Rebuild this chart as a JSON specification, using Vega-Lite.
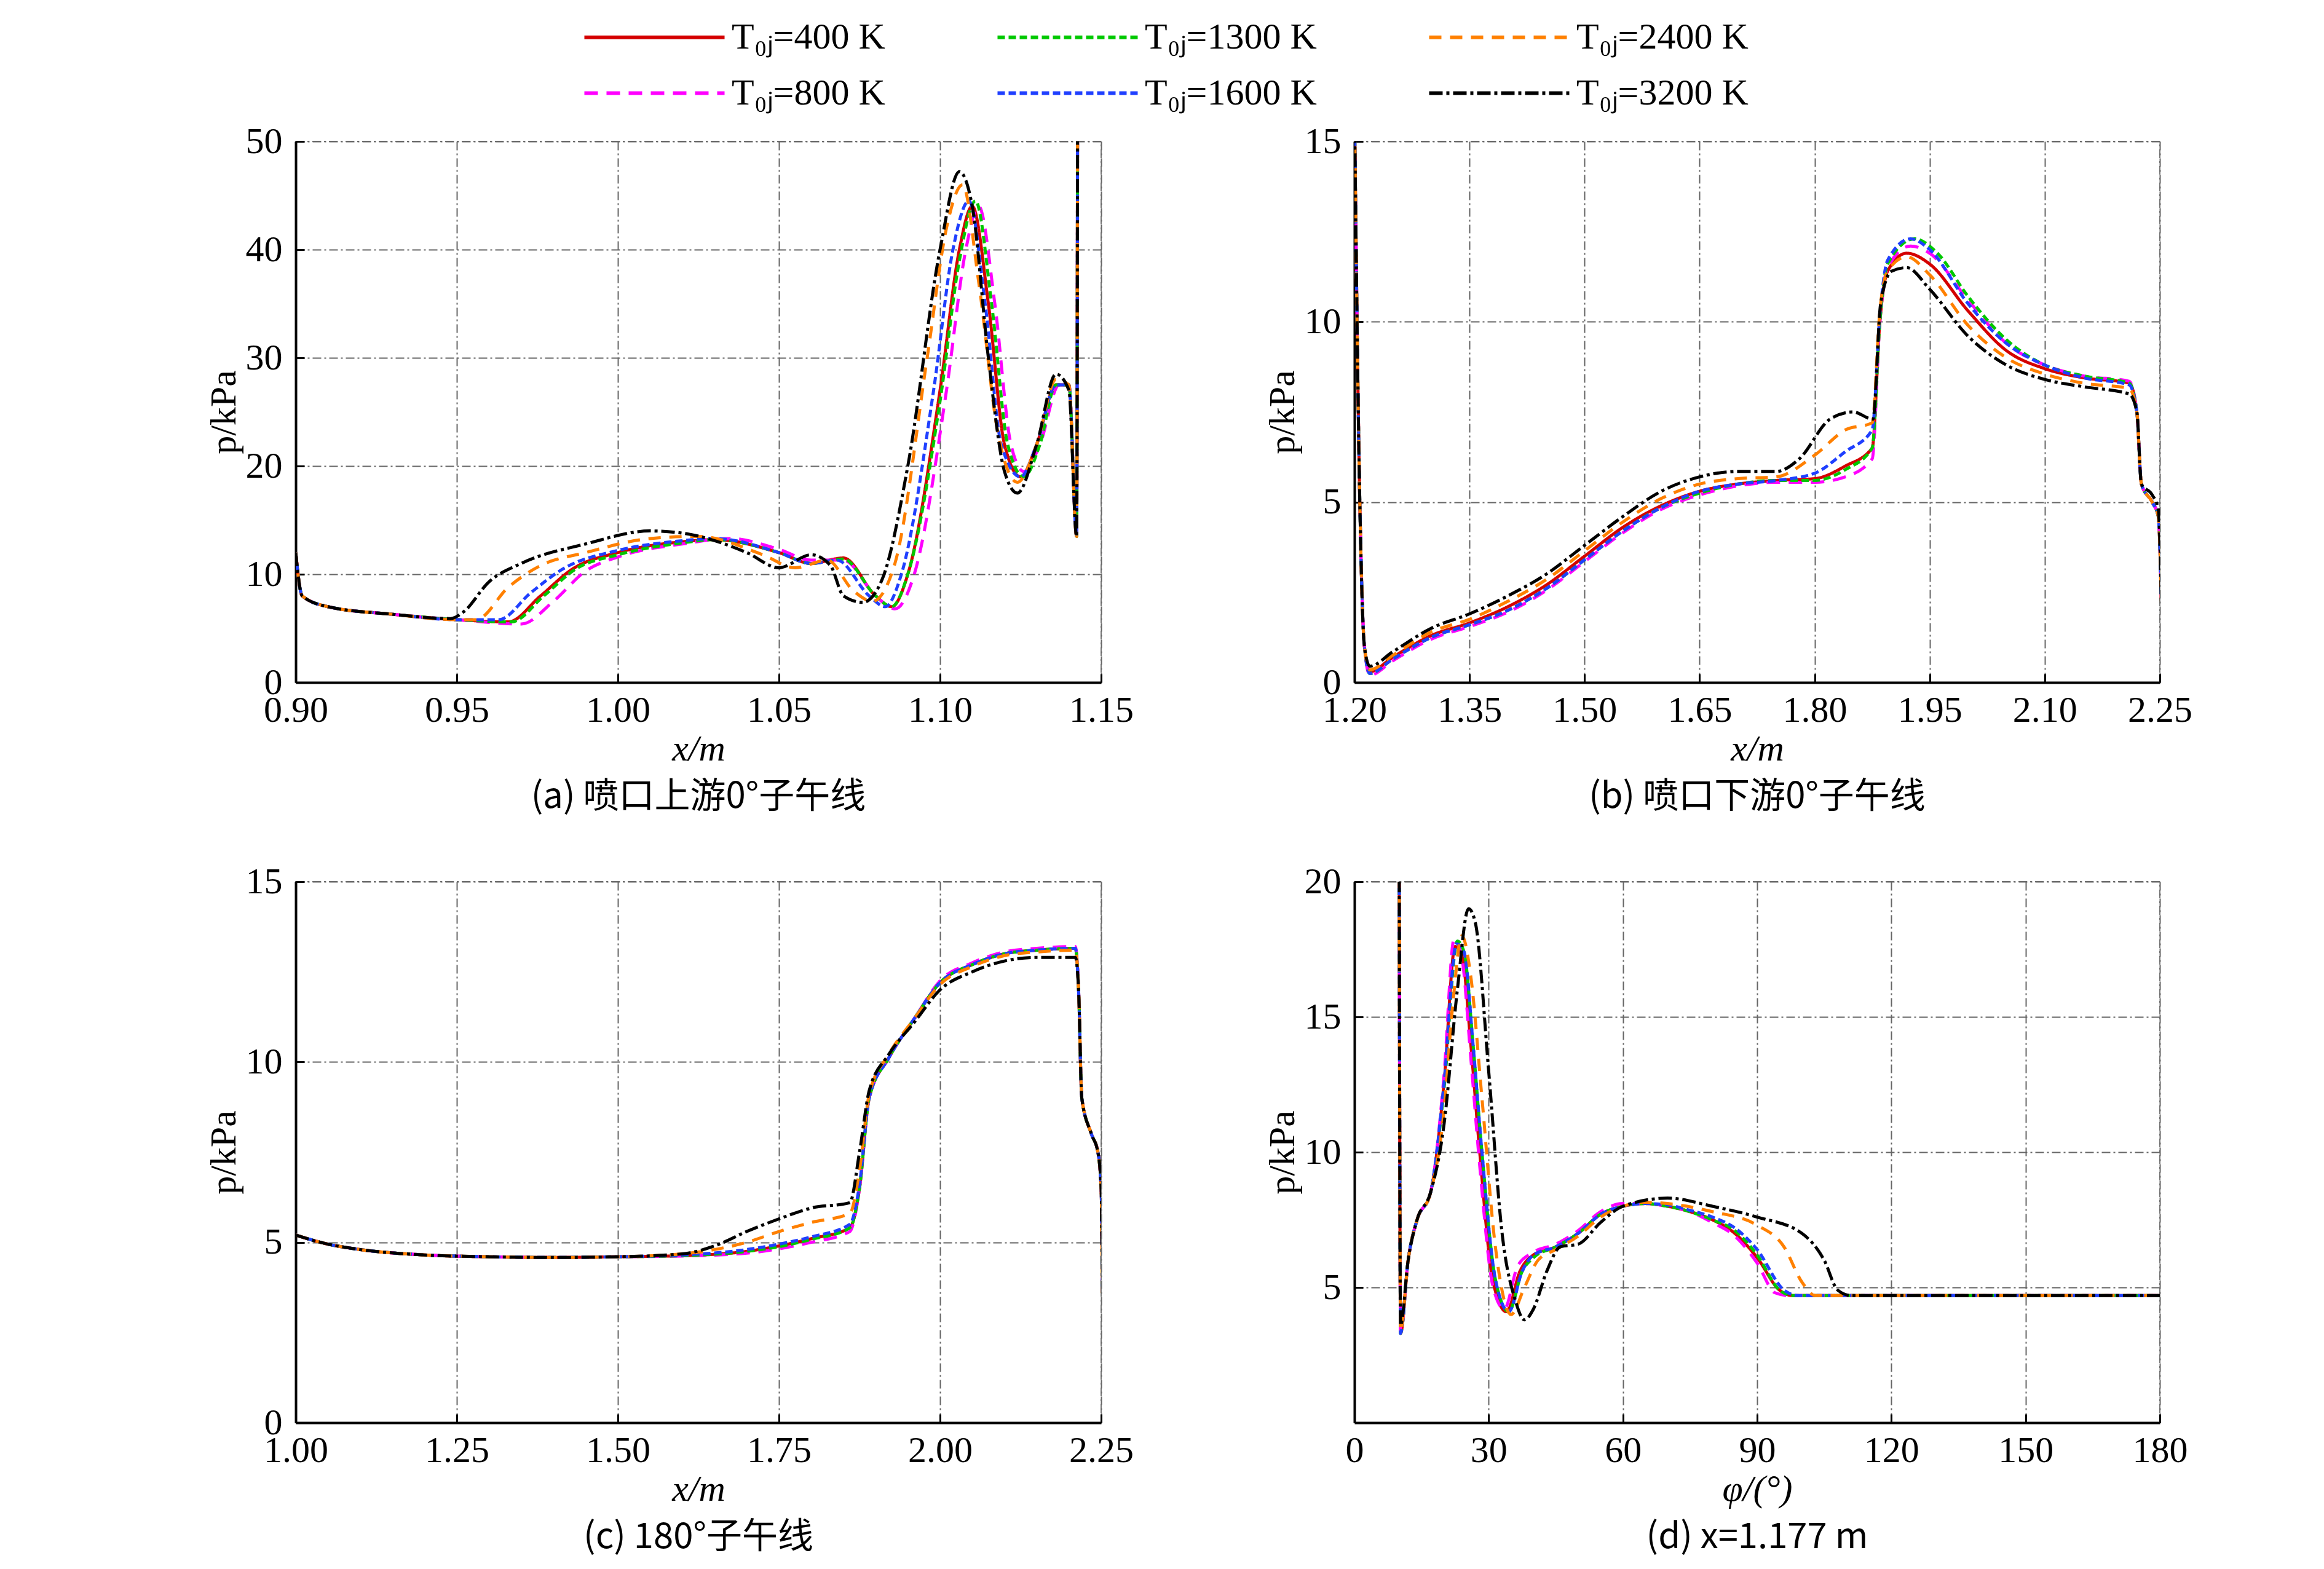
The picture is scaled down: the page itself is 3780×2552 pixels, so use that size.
{
"$schema":"https://vega.github.io/schema/vega-lite/v6.json",
"background":"white",
"padding":{"left":333,"top":0,"right":20,"bottom":10},
"config":{"font":"Liberation Serif","view":{"stroke":"#777","strokeDash":[14,5,3,5],"strokeWidth":2},
"axis":{"labelFont":"Liberation Serif","titleFont":"Liberation Serif","labelFontSize":60,"titleFontSize":60,"labelColor":"black","titleColor":"black","titleFontWeight":"normal","domainColor":"black","domainWidth":4,"tickColor":"black","tickWidth":3,"tickSize":-14,"gridColor":"#666","gridDash":[14,5,3,5],"gridWidth":2,"labelPadding":30,"labelFlush":false},
"axisX":{"titleFontStyle":"italic"},
"axisY":{"labelPadding":36},
"title":{"font":"Noto Sans CJK SC","fontSize":58,"fontWeight":"normal","orient":"bottom","offset":20},
"legend":{"labelFont":"Liberation Serif","labelFontSize":60,"labelColor":"black","labelLimit":0}},
"data":{"values":[
{"p":"a","s":"400","x":0.9,"y":12},{"p":"a","s":"400","x":0.902,"y":8},{"p":"a","s":"400","x":0.91,"y":7},{"p":"a","s":"400","x":0.93,"y":6.3},{"p":"a","s":"400","x":0.95,"y":5.8},{"p":"a","s":"400","x":0.966,"y":5.6},{"p":"a","s":"400","x":0.976,"y":8},{"p":"a","s":"400","x":0.986,"y":10.5},{"p":"a","s":"400","x":1.0,"y":12},{"p":"a","s":"400","x":1.02,"y":13},{"p":"a","s":"400","x":1.03,"y":13.2},{"p":"a","s":"400","x":1.05,"y":12},{"p":"a","s":"400","x":1.06,"y":11},{"p":"a","s":"400","x":1.07,"y":11.5},{"p":"a","s":"400","x":1.08,"y":8},{"p":"a","s":"400","x":1.085,"y":7},{"p":"a","s":"400","x":1.09,"y":10},{"p":"a","s":"400","x":1.1,"y":27},{"p":"a","s":"400","x":1.106,"y":40},{"p":"a","s":"400","x":1.11,"y":44},{"p":"a","s":"400","x":1.115,"y":35},{"p":"a","s":"400","x":1.12,"y":22},{"p":"a","s":"400","x":1.125,"y":19},{"p":"a","s":"400","x":1.13,"y":22},{"p":"a","s":"400","x":1.136,"y":27.5},{"p":"a","s":"400","x":1.14,"y":27.5},{"p":"a","s":"400","x":1.1424,"y":13.5},{"p":"a","s":"400","x":1.1427,"y":55},
{"p":"a","s":"800","x":0.9,"y":12},{"p":"a","s":"800","x":0.902,"y":8},{"p":"a","s":"800","x":0.91,"y":7},{"p":"a","s":"800","x":0.93,"y":6.3},{"p":"a","s":"800","x":0.95,"y":5.8},{"p":"a","s":"800","x":0.97,"y":5.4},{"p":"a","s":"800","x":0.98,"y":7.5},{"p":"a","s":"800","x":0.99,"y":10.3},{"p":"a","s":"800","x":1.0,"y":11.6},{"p":"a","s":"800","x":1.02,"y":12.8},{"p":"a","s":"800","x":1.035,"y":13.3},{"p":"a","s":"800","x":1.05,"y":12.3},{"p":"a","s":"800","x":1.06,"y":11.3},{"p":"a","s":"800","x":1.07,"y":11.3},{"p":"a","s":"800","x":1.08,"y":8},{"p":"a","s":"800","x":1.086,"y":6.8},{"p":"a","s":"800","x":1.092,"y":10},{"p":"a","s":"800","x":1.102,"y":27},{"p":"a","s":"800","x":1.108,"y":40},{"p":"a","s":"800","x":1.112,"y":44},{"p":"a","s":"800","x":1.117,"y":35},{"p":"a","s":"800","x":1.122,"y":22},{"p":"a","s":"800","x":1.126,"y":19.5},{"p":"a","s":"800","x":1.131,"y":22},{"p":"a","s":"800","x":1.137,"y":27.5},{"p":"a","s":"800","x":1.14,"y":27.5},{"p":"a","s":"800","x":1.1424,"y":13.5},{"p":"a","s":"800","x":1.1427,"y":55},
{"p":"a","s":"1300","x":0.9,"y":12},{"p":"a","s":"1300","x":0.902,"y":8},{"p":"a","s":"1300","x":0.91,"y":7},{"p":"a","s":"1300","x":0.93,"y":6.3},{"p":"a","s":"1300","x":0.95,"y":5.8},{"p":"a","s":"1300","x":0.967,"y":5.6},{"p":"a","s":"1300","x":0.977,"y":8},{"p":"a","s":"1300","x":0.987,"y":10.5},{"p":"a","s":"1300","x":1.0,"y":11.8},{"p":"a","s":"1300","x":1.02,"y":12.9},{"p":"a","s":"1300","x":1.03,"y":13.2},{"p":"a","s":"1300","x":1.05,"y":12},{"p":"a","s":"1300","x":1.06,"y":11},{"p":"a","s":"1300","x":1.07,"y":11.4},{"p":"a","s":"1300","x":1.08,"y":8},{"p":"a","s":"1300","x":1.085,"y":7},{"p":"a","s":"1300","x":1.09,"y":10},{"p":"a","s":"1300","x":1.1,"y":26},{"p":"a","s":"1300","x":1.106,"y":39},{"p":"a","s":"1300","x":1.111,"y":44.5},{"p":"a","s":"1300","x":1.116,"y":35},{"p":"a","s":"1300","x":1.121,"y":22},{"p":"a","s":"1300","x":1.126,"y":19},{"p":"a","s":"1300","x":1.131,"y":22},{"p":"a","s":"1300","x":1.136,"y":27.5},{"p":"a","s":"1300","x":1.14,"y":27.5},{"p":"a","s":"1300","x":1.1424,"y":13.5},{"p":"a","s":"1300","x":1.1427,"y":55},
{"p":"a","s":"1600","x":0.9,"y":12},{"p":"a","s":"1600","x":0.902,"y":8},{"p":"a","s":"1600","x":0.91,"y":7},{"p":"a","s":"1600","x":0.93,"y":6.3},{"p":"a","s":"1600","x":0.95,"y":5.8},{"p":"a","s":"1600","x":0.963,"y":5.8},{"p":"a","s":"1600","x":0.973,"y":8.3},{"p":"a","s":"1600","x":0.983,"y":10.5},{"p":"a","s":"1600","x":1.0,"y":12.2},{"p":"a","s":"1600","x":1.02,"y":13.1},{"p":"a","s":"1600","x":1.03,"y":13.3},{"p":"a","s":"1600","x":1.05,"y":12},{"p":"a","s":"1600","x":1.06,"y":11},{"p":"a","s":"1600","x":1.068,"y":11.3},{"p":"a","s":"1600","x":1.078,"y":8},{"p":"a","s":"1600","x":1.083,"y":7},{"p":"a","s":"1600","x":1.088,"y":10},{"p":"a","s":"1600","x":1.098,"y":27},{"p":"a","s":"1600","x":1.104,"y":40},{"p":"a","s":"1600","x":1.109,"y":44.5},{"p":"a","s":"1600","x":1.114,"y":35},{"p":"a","s":"1600","x":1.119,"y":22},{"p":"a","s":"1600","x":1.125,"y":19},{"p":"a","s":"1600","x":1.13,"y":22},{"p":"a","s":"1600","x":1.136,"y":27.5},{"p":"a","s":"1600","x":1.14,"y":27.5},{"p":"a","s":"1600","x":1.1424,"y":13.5},{"p":"a","s":"1600","x":1.1427,"y":55},
{"p":"a","s":"2400","x":0.9,"y":12},{"p":"a","s":"2400","x":0.902,"y":8},{"p":"a","s":"2400","x":0.91,"y":7},{"p":"a","s":"2400","x":0.93,"y":6.3},{"p":"a","s":"2400","x":0.95,"y":5.8},{"p":"a","s":"2400","x":0.956,"y":5.8},{"p":"a","s":"2400","x":0.966,"y":8.8},{"p":"a","s":"2400","x":0.976,"y":10.8},{"p":"a","s":"2400","x":0.99,"y":12},{"p":"a","s":"2400","x":1.01,"y":13.3},{"p":"a","s":"2400","x":1.025,"y":13.5},{"p":"a","s":"2400","x":1.045,"y":11.8},{"p":"a","s":"2400","x":1.055,"y":10.6},{"p":"a","s":"2400","x":1.065,"y":11.3},{"p":"a","s":"2400","x":1.073,"y":8.5},{"p":"a","s":"2400","x":1.079,"y":7.5},{"p":"a","s":"2400","x":1.086,"y":11},{"p":"a","s":"2400","x":1.096,"y":30},{"p":"a","s":"2400","x":1.102,"y":42},{"p":"a","s":"2400","x":1.107,"y":46},{"p":"a","s":"2400","x":1.112,"y":37},{"p":"a","s":"2400","x":1.118,"y":23},{"p":"a","s":"2400","x":1.124,"y":18.5},{"p":"a","s":"2400","x":1.13,"y":22},{"p":"a","s":"2400","x":1.136,"y":28},{"p":"a","s":"2400","x":1.14,"y":27.5},{"p":"a","s":"2400","x":1.1424,"y":13.5},{"p":"a","s":"2400","x":1.1427,"y":55},
{"p":"a","s":"3200","x":0.9,"y":12},{"p":"a","s":"3200","x":0.902,"y":8},{"p":"a","s":"3200","x":0.91,"y":7},{"p":"a","s":"3200","x":0.93,"y":6.3},{"p":"a","s":"3200","x":0.948,"y":5.9},{"p":"a","s":"3200","x":0.952,"y":6.5},{"p":"a","s":"3200","x":0.96,"y":9.3},{"p":"a","s":"3200","x":0.97,"y":11},{"p":"a","s":"3200","x":0.99,"y":12.8},{"p":"a","s":"3200","x":1.01,"y":14},{"p":"a","s":"3200","x":1.02,"y":13.8},{"p":"a","s":"3200","x":1.04,"y":12},{"p":"a","s":"3200","x":1.05,"y":10.6},{"p":"a","s":"3200","x":1.06,"y":11.8},{"p":"a","s":"3200","x":1.066,"y":10.8},{"p":"a","s":"3200","x":1.07,"y":8},{"p":"a","s":"3200","x":1.076,"y":7.4},{"p":"a","s":"3200","x":1.082,"y":9.5},{"p":"a","s":"3200","x":1.09,"y":20},{"p":"a","s":"3200","x":1.1,"y":40},{"p":"a","s":"3200","x":1.106,"y":47.2},{"p":"a","s":"3200","x":1.11,"y":44},{"p":"a","s":"3200","x":1.115,"y":30},{"p":"a","s":"3200","x":1.12,"y":19.5},{"p":"a","s":"3200","x":1.124,"y":17.5},{"p":"a","s":"3200","x":1.13,"y":22},{"p":"a","s":"3200","x":1.136,"y":28.5},{"p":"a","s":"3200","x":1.14,"y":27},{"p":"a","s":"3200","x":1.1424,"y":13.5},{"p":"a","s":"3200","x":1.1427,"y":55},

{"p":"b","s":"400","x":1.2,"y":16},{"p":"b","s":"400","x":1.207,"y":5},{"p":"b","s":"400","x":1.213,"y":1},{"p":"b","s":"400","x":1.22,"y":0.3},{"p":"b","s":"400","x":1.25,"y":0.7},{"p":"b","s":"400","x":1.3,"y":1.3},{"p":"b","s":"400","x":1.35,"y":1.65},{"p":"b","s":"400","x":1.4,"y":2.1},{"p":"b","s":"400","x":1.45,"y":2.7},{"p":"b","s":"400","x":1.5,"y":3.5},{"p":"b","s":"400","x":1.55,"y":4.3},{"p":"b","s":"400","x":1.6,"y":4.9},{"p":"b","s":"400","x":1.65,"y":5.3},{"p":"b","s":"400","x":1.7,"y":5.5},{"p":"b","s":"400","x":1.75,"y":5.6},{"p":"b","s":"400","x":1.8,"y":5.65},{"p":"b","s":"400","x":1.84,"y":6},{"p":"b","s":"400","x":1.875,"y":6.5},{"p":"b","s":"400","x":1.885,"y":10},{"p":"b","s":"400","x":1.895,"y":11.4},{"p":"b","s":"400","x":1.92,"y":11.9},{"p":"b","s":"400","x":1.95,"y":11.6},{"p":"b","s":"400","x":2.0,"y":10.3},{"p":"b","s":"400","x":2.05,"y":9.2},{"p":"b","s":"400","x":2.1,"y":8.7},{"p":"b","s":"400","x":2.15,"y":8.45},{"p":"b","s":"400","x":2.21,"y":8.3},{"p":"b","s":"400","x":2.22,"y":7.5},{"p":"b","s":"400","x":2.226,"y":5.5},{"p":"b","s":"400","x":2.24,"y":5.0},{"p":"b","s":"400","x":2.248,"y":4.6},{"p":"b","s":"400","x":2.252,"y":2.2},
{"p":"b","s":"800","x":1.2,"y":16},{"p":"b","s":"800","x":1.207,"y":5},{"p":"b","s":"800","x":1.213,"y":1},{"p":"b","s":"800","x":1.22,"y":0.2},{"p":"b","s":"800","x":1.25,"y":0.6},{"p":"b","s":"800","x":1.3,"y":1.2},{"p":"b","s":"800","x":1.35,"y":1.55},{"p":"b","s":"800","x":1.4,"y":1.95},{"p":"b","s":"800","x":1.45,"y":2.55},{"p":"b","s":"800","x":1.5,"y":3.35},{"p":"b","s":"800","x":1.55,"y":4.15},{"p":"b","s":"800","x":1.6,"y":4.8},{"p":"b","s":"800","x":1.65,"y":5.2},{"p":"b","s":"800","x":1.7,"y":5.45},{"p":"b","s":"800","x":1.75,"y":5.55},{"p":"b","s":"800","x":1.8,"y":5.55},{"p":"b","s":"800","x":1.84,"y":5.7},{"p":"b","s":"800","x":1.875,"y":6.2},{"p":"b","s":"800","x":1.885,"y":10},{"p":"b","s":"800","x":1.895,"y":11.5},{"p":"b","s":"800","x":1.925,"y":12.1},{"p":"b","s":"800","x":1.95,"y":11.9},{"p":"b","s":"800","x":2.0,"y":10.6},{"p":"b","s":"800","x":2.05,"y":9.4},{"p":"b","s":"800","x":2.1,"y":8.8},{"p":"b","s":"800","x":2.15,"y":8.5},{"p":"b","s":"800","x":2.21,"y":8.35},{"p":"b","s":"800","x":2.22,"y":7.5},{"p":"b","s":"800","x":2.226,"y":5.5},{"p":"b","s":"800","x":2.24,"y":5.0},{"p":"b","s":"800","x":2.248,"y":4.6},{"p":"b","s":"800","x":2.252,"y":2.2},
{"p":"b","s":"1300","x":1.2,"y":16},{"p":"b","s":"1300","x":1.207,"y":5},{"p":"b","s":"1300","x":1.213,"y":1},{"p":"b","s":"1300","x":1.22,"y":0.25},{"p":"b","s":"1300","x":1.25,"y":0.65},{"p":"b","s":"1300","x":1.3,"y":1.25},{"p":"b","s":"1300","x":1.35,"y":1.6},{"p":"b","s":"1300","x":1.4,"y":2.0},{"p":"b","s":"1300","x":1.45,"y":2.6},{"p":"b","s":"1300","x":1.5,"y":3.4},{"p":"b","s":"1300","x":1.55,"y":4.2},{"p":"b","s":"1300","x":1.6,"y":4.85},{"p":"b","s":"1300","x":1.65,"y":5.25},{"p":"b","s":"1300","x":1.7,"y":5.5},{"p":"b","s":"1300","x":1.75,"y":5.6},{"p":"b","s":"1300","x":1.8,"y":5.6},{"p":"b","s":"1300","x":1.84,"y":5.9},{"p":"b","s":"1300","x":1.875,"y":6.5},{"p":"b","s":"1300","x":1.885,"y":10},{"p":"b","s":"1300","x":1.895,"y":11.6},{"p":"b","s":"1300","x":1.93,"y":12.3},{"p":"b","s":"1300","x":1.96,"y":11.9},{"p":"b","s":"1300","x":2.0,"y":10.7},{"p":"b","s":"1300","x":2.05,"y":9.5},{"p":"b","s":"1300","x":2.1,"y":8.8},{"p":"b","s":"1300","x":2.15,"y":8.5},{"p":"b","s":"1300","x":2.21,"y":8.3},{"p":"b","s":"1300","x":2.22,"y":7.5},{"p":"b","s":"1300","x":2.226,"y":5.5},{"p":"b","s":"1300","x":2.24,"y":5.0},{"p":"b","s":"1300","x":2.248,"y":4.6},{"p":"b","s":"1300","x":2.252,"y":2.2},
{"p":"b","s":"1600","x":1.2,"y":16},{"p":"b","s":"1600","x":1.207,"y":5},{"p":"b","s":"1600","x":1.213,"y":1},{"p":"b","s":"1600","x":1.22,"y":0.25},{"p":"b","s":"1600","x":1.25,"y":0.65},{"p":"b","s":"1600","x":1.3,"y":1.25},{"p":"b","s":"1600","x":1.35,"y":1.6},{"p":"b","s":"1600","x":1.4,"y":2.0},{"p":"b","s":"1600","x":1.45,"y":2.6},{"p":"b","s":"1600","x":1.5,"y":3.4},{"p":"b","s":"1600","x":1.55,"y":4.2},{"p":"b","s":"1600","x":1.6,"y":4.85},{"p":"b","s":"1600","x":1.65,"y":5.3},{"p":"b","s":"1600","x":1.7,"y":5.5},{"p":"b","s":"1600","x":1.75,"y":5.6},{"p":"b","s":"1600","x":1.8,"y":5.8},{"p":"b","s":"1600","x":1.84,"y":6.4},{"p":"b","s":"1600","x":1.875,"y":7.0},{"p":"b","s":"1600","x":1.885,"y":10.2},{"p":"b","s":"1600","x":1.895,"y":11.7},{"p":"b","s":"1600","x":1.925,"y":12.3},{"p":"b","s":"1600","x":1.95,"y":12.0},{"p":"b","s":"1600","x":2.0,"y":10.5},{"p":"b","s":"1600","x":2.05,"y":9.4},{"p":"b","s":"1600","x":2.1,"y":8.8},{"p":"b","s":"1600","x":2.15,"y":8.45},{"p":"b","s":"1600","x":2.21,"y":8.25},{"p":"b","s":"1600","x":2.22,"y":7.5},{"p":"b","s":"1600","x":2.226,"y":5.5},{"p":"b","s":"1600","x":2.24,"y":5.0},{"p":"b","s":"1600","x":2.248,"y":4.6},{"p":"b","s":"1600","x":2.252,"y":2.2},
{"p":"b","s":"2400","x":1.2,"y":16},{"p":"b","s":"2400","x":1.207,"y":5},{"p":"b","s":"2400","x":1.213,"y":1},{"p":"b","s":"2400","x":1.22,"y":0.35},{"p":"b","s":"2400","x":1.25,"y":0.75},{"p":"b","s":"2400","x":1.3,"y":1.4},{"p":"b","s":"2400","x":1.35,"y":1.75},{"p":"b","s":"2400","x":1.4,"y":2.25},{"p":"b","s":"2400","x":1.45,"y":2.85},{"p":"b","s":"2400","x":1.5,"y":3.65},{"p":"b","s":"2400","x":1.55,"y":4.45},{"p":"b","s":"2400","x":1.6,"y":5.1},{"p":"b","s":"2400","x":1.65,"y":5.5},{"p":"b","s":"2400","x":1.7,"y":5.65},{"p":"b","s":"2400","x":1.75,"y":5.7},{"p":"b","s":"2400","x":1.8,"y":6.3},{"p":"b","s":"2400","x":1.84,"y":7.0},{"p":"b","s":"2400","x":1.875,"y":7.2},{"p":"b","s":"2400","x":1.885,"y":10.3},{"p":"b","s":"2400","x":1.895,"y":11.4},{"p":"b","s":"2400","x":1.92,"y":11.8},{"p":"b","s":"2400","x":1.95,"y":11.3},{"p":"b","s":"2400","x":2.0,"y":9.9},{"p":"b","s":"2400","x":2.05,"y":9.0},{"p":"b","s":"2400","x":2.1,"y":8.55},{"p":"b","s":"2400","x":2.15,"y":8.3},{"p":"b","s":"2400","x":2.21,"y":8.15},{"p":"b","s":"2400","x":2.22,"y":7.5},{"p":"b","s":"2400","x":2.226,"y":5.5},{"p":"b","s":"2400","x":2.24,"y":5.0},{"p":"b","s":"2400","x":2.248,"y":4.6},{"p":"b","s":"2400","x":2.252,"y":2.2},
{"p":"b","s":"3200","x":1.2,"y":16},{"p":"b","s":"3200","x":1.207,"y":5},{"p":"b","s":"3200","x":1.213,"y":1},{"p":"b","s":"3200","x":1.22,"y":0.45},{"p":"b","s":"3200","x":1.25,"y":0.85},{"p":"b","s":"3200","x":1.3,"y":1.5},{"p":"b","s":"3200","x":1.35,"y":1.9},{"p":"b","s":"3200","x":1.4,"y":2.4},{"p":"b","s":"3200","x":1.45,"y":3.0},{"p":"b","s":"3200","x":1.5,"y":3.8},{"p":"b","s":"3200","x":1.55,"y":4.6},{"p":"b","s":"3200","x":1.6,"y":5.3},{"p":"b","s":"3200","x":1.65,"y":5.7},{"p":"b","s":"3200","x":1.7,"y":5.85},{"p":"b","s":"3200","x":1.75,"y":5.85},{"p":"b","s":"3200","x":1.78,"y":6.2},{"p":"b","s":"3200","x":1.82,"y":7.3},{"p":"b","s":"3200","x":1.85,"y":7.5},{"p":"b","s":"3200","x":1.876,"y":7.3},{"p":"b","s":"3200","x":1.886,"y":10.5},{"p":"b","s":"3200","x":1.9,"y":11.4},{"p":"b","s":"3200","x":1.92,"y":11.5},{"p":"b","s":"3200","x":1.95,"y":10.9},{"p":"b","s":"3200","x":2.0,"y":9.6},{"p":"b","s":"3200","x":2.05,"y":8.8},{"p":"b","s":"3200","x":2.1,"y":8.4},{"p":"b","s":"3200","x":2.15,"y":8.2},{"p":"b","s":"3200","x":2.21,"y":8.0},{"p":"b","s":"3200","x":2.22,"y":7.5},{"p":"b","s":"3200","x":2.226,"y":5.5},{"p":"b","s":"3200","x":2.24,"y":5.2},{"p":"b","s":"3200","x":2.248,"y":4.8},{"p":"b","s":"3200","x":2.252,"y":2.2},

{"p":"c","s":"400","x":1.0,"y":5.2},{"p":"c","s":"400","x":1.05,"y":4.95},{"p":"c","s":"400","x":1.1,"y":4.8},{"p":"c","s":"400","x":1.2,"y":4.65},{"p":"c","s":"400","x":1.3,"y":4.6},{"p":"c","s":"400","x":1.4,"y":4.58},{"p":"c","s":"400","x":1.5,"y":4.6},{"p":"c","s":"400","x":1.6,"y":4.63},{"p":"c","s":"400","x":1.7,"y":4.75},{"p":"c","s":"400","x":1.75,"y":4.9},{"p":"c","s":"400","x":1.8,"y":5.1},{"p":"c","s":"400","x":1.86,"y":5.4},{"p":"c","s":"400","x":1.875,"y":6.5},{"p":"c","s":"400","x":1.89,"y":9},{"p":"c","s":"400","x":1.92,"y":10.1},{"p":"c","s":"400","x":1.96,"y":11.2},{"p":"c","s":"400","x":2.0,"y":12.2},{"p":"c","s":"400","x":2.05,"y":12.7},{"p":"c","s":"400","x":2.1,"y":13.0},{"p":"c","s":"400","x":2.15,"y":13.1},{"p":"c","s":"400","x":2.21,"y":13.15},{"p":"c","s":"400","x":2.215,"y":12},{"p":"c","s":"400","x":2.22,"y":9},{"p":"c","s":"400","x":2.235,"y":8},{"p":"c","s":"400","x":2.245,"y":7.5},{"p":"c","s":"400","x":2.25,"y":6.5},{"p":"c","s":"400","x":2.252,"y":3.6},
{"p":"c","s":"800","x":1.0,"y":5.2},{"p":"c","s":"800","x":1.05,"y":4.95},{"p":"c","s":"800","x":1.1,"y":4.8},{"p":"c","s":"800","x":1.2,"y":4.65},{"p":"c","s":"800","x":1.3,"y":4.6},{"p":"c","s":"800","x":1.4,"y":4.58},{"p":"c","s":"800","x":1.5,"y":4.6},{"p":"c","s":"800","x":1.6,"y":4.62},{"p":"c","s":"800","x":1.7,"y":4.7},{"p":"c","s":"800","x":1.75,"y":4.82},{"p":"c","s":"800","x":1.8,"y":5.0},{"p":"c","s":"800","x":1.86,"y":5.3},{"p":"c","s":"800","x":1.875,"y":6.5},{"p":"c","s":"800","x":1.89,"y":9},{"p":"c","s":"800","x":1.92,"y":10.1},{"p":"c","s":"800","x":1.96,"y":11.2},{"p":"c","s":"800","x":2.0,"y":12.25},{"p":"c","s":"800","x":2.05,"y":12.75},{"p":"c","s":"800","x":2.1,"y":13.05},{"p":"c","s":"800","x":2.15,"y":13.15},{"p":"c","s":"800","x":2.21,"y":13.2},{"p":"c","s":"800","x":2.215,"y":12},{"p":"c","s":"800","x":2.22,"y":9},{"p":"c","s":"800","x":2.235,"y":8},{"p":"c","s":"800","x":2.245,"y":7.5},{"p":"c","s":"800","x":2.25,"y":6.5},{"p":"c","s":"800","x":2.252,"y":3.6},
{"p":"c","s":"1300","x":1.0,"y":5.2},{"p":"c","s":"1300","x":1.05,"y":4.95},{"p":"c","s":"1300","x":1.1,"y":4.8},{"p":"c","s":"1300","x":1.2,"y":4.65},{"p":"c","s":"1300","x":1.3,"y":4.6},{"p":"c","s":"1300","x":1.4,"y":4.58},{"p":"c","s":"1300","x":1.5,"y":4.6},{"p":"c","s":"1300","x":1.6,"y":4.63},{"p":"c","s":"1300","x":1.7,"y":4.75},{"p":"c","s":"1300","x":1.75,"y":4.88},{"p":"c","s":"1300","x":1.8,"y":5.08},{"p":"c","s":"1300","x":1.86,"y":5.4},{"p":"c","s":"1300","x":1.875,"y":6.5},{"p":"c","s":"1300","x":1.89,"y":9},{"p":"c","s":"1300","x":1.92,"y":10.1},{"p":"c","s":"1300","x":1.96,"y":11.2},{"p":"c","s":"1300","x":2.0,"y":12.2},{"p":"c","s":"1300","x":2.05,"y":12.7},{"p":"c","s":"1300","x":2.1,"y":13.0},{"p":"c","s":"1300","x":2.15,"y":13.1},{"p":"c","s":"1300","x":2.21,"y":13.15},{"p":"c","s":"1300","x":2.215,"y":12},{"p":"c","s":"1300","x":2.22,"y":9},{"p":"c","s":"1300","x":2.235,"y":8},{"p":"c","s":"1300","x":2.245,"y":7.5},{"p":"c","s":"1300","x":2.25,"y":6.5},{"p":"c","s":"1300","x":2.252,"y":3.6},
{"p":"c","s":"1600","x":1.0,"y":5.2},{"p":"c","s":"1600","x":1.05,"y":4.95},{"p":"c","s":"1600","x":1.1,"y":4.8},{"p":"c","s":"1600","x":1.2,"y":4.65},{"p":"c","s":"1600","x":1.3,"y":4.6},{"p":"c","s":"1600","x":1.4,"y":4.58},{"p":"c","s":"1600","x":1.5,"y":4.6},{"p":"c","s":"1600","x":1.6,"y":4.65},{"p":"c","s":"1600","x":1.7,"y":4.8},{"p":"c","s":"1600","x":1.75,"y":4.95},{"p":"c","s":"1600","x":1.8,"y":5.15},{"p":"c","s":"1600","x":1.86,"y":5.5},{"p":"c","s":"1600","x":1.875,"y":6.6},{"p":"c","s":"1600","x":1.89,"y":9},{"p":"c","s":"1600","x":1.92,"y":10.1},{"p":"c","s":"1600","x":1.96,"y":11.2},{"p":"c","s":"1600","x":2.0,"y":12.2},{"p":"c","s":"1600","x":2.05,"y":12.7},{"p":"c","s":"1600","x":2.1,"y":13.0},{"p":"c","s":"1600","x":2.15,"y":13.1},{"p":"c","s":"1600","x":2.21,"y":13.15},{"p":"c","s":"1600","x":2.215,"y":12},{"p":"c","s":"1600","x":2.22,"y":9},{"p":"c","s":"1600","x":2.235,"y":8},{"p":"c","s":"1600","x":2.245,"y":7.5},{"p":"c","s":"1600","x":2.25,"y":6.5},{"p":"c","s":"1600","x":2.252,"y":3.6},
{"p":"c","s":"2400","x":1.0,"y":5.2},{"p":"c","s":"2400","x":1.05,"y":4.95},{"p":"c","s":"2400","x":1.1,"y":4.8},{"p":"c","s":"2400","x":1.2,"y":4.65},{"p":"c","s":"2400","x":1.3,"y":4.6},{"p":"c","s":"2400","x":1.4,"y":4.58},{"p":"c","s":"2400","x":1.5,"y":4.6},{"p":"c","s":"2400","x":1.6,"y":4.68},{"p":"c","s":"2400","x":1.65,"y":4.8},{"p":"c","s":"2400","x":1.7,"y":5.0},{"p":"c","s":"2400","x":1.75,"y":5.3},{"p":"c","s":"2400","x":1.8,"y":5.55},{"p":"c","s":"2400","x":1.86,"y":5.8},{"p":"c","s":"2400","x":1.875,"y":7},{"p":"c","s":"2400","x":1.89,"y":9.1},{"p":"c","s":"2400","x":1.92,"y":10.2},{"p":"c","s":"2400","x":1.96,"y":11.2},{"p":"c","s":"2400","x":2.0,"y":12.15},{"p":"c","s":"2400","x":2.05,"y":12.65},{"p":"c","s":"2400","x":2.1,"y":12.95},{"p":"c","s":"2400","x":2.15,"y":13.05},{"p":"c","s":"2400","x":2.21,"y":13.1},{"p":"c","s":"2400","x":2.215,"y":12},{"p":"c","s":"2400","x":2.22,"y":9},{"p":"c","s":"2400","x":2.235,"y":8},{"p":"c","s":"2400","x":2.245,"y":7.5},{"p":"c","s":"2400","x":2.25,"y":6.5},{"p":"c","s":"2400","x":2.252,"y":3.6},
{"p":"c","s":"3200","x":1.0,"y":5.2},{"p":"c","s":"3200","x":1.05,"y":4.95},{"p":"c","s":"3200","x":1.1,"y":4.8},{"p":"c","s":"3200","x":1.2,"y":4.65},{"p":"c","s":"3200","x":1.3,"y":4.6},{"p":"c","s":"3200","x":1.4,"y":4.58},{"p":"c","s":"3200","x":1.5,"y":4.6},{"p":"c","s":"3200","x":1.6,"y":4.68},{"p":"c","s":"3200","x":1.65,"y":4.9},{"p":"c","s":"3200","x":1.7,"y":5.3},{"p":"c","s":"3200","x":1.75,"y":5.65},{"p":"c","s":"3200","x":1.8,"y":5.95},{"p":"c","s":"3200","x":1.86,"y":6.1},{"p":"c","s":"3200","x":1.875,"y":7.5},{"p":"c","s":"3200","x":1.89,"y":9.2},{"p":"c","s":"3200","x":1.92,"y":10.2},{"p":"c","s":"3200","x":1.96,"y":11.1},{"p":"c","s":"3200","x":2.0,"y":12.0},{"p":"c","s":"3200","x":2.05,"y":12.5},{"p":"c","s":"3200","x":2.1,"y":12.8},{"p":"c","s":"3200","x":2.15,"y":12.9},{"p":"c","s":"3200","x":2.21,"y":12.9},{"p":"c","s":"3200","x":2.215,"y":12},{"p":"c","s":"3200","x":2.22,"y":9},{"p":"c","s":"3200","x":2.235,"y":8},{"p":"c","s":"3200","x":2.245,"y":7.5},{"p":"c","s":"3200","x":2.25,"y":6.5},{"p":"c","s":"3200","x":2.252,"y":3.6},

{"p":"d","s":"400","x":10,"y":21},{"p":"d","s":"400","x":10.3,"y":3.3},{"p":"d","s":"400","x":12,"y":6},{"p":"d","s":"400","x":14,"y":7.5},{"p":"d","s":"400","x":17,"y":8.5},{"p":"d","s":"400","x":20,"y":12.5},{"p":"d","s":"400","x":22.5,"y":17.6},{"p":"d","s":"400","x":24,"y":17.3},{"p":"d","s":"400","x":26,"y":14},{"p":"d","s":"400","x":28,"y":10},{"p":"d","s":"400","x":31,"y":5.2},{"p":"d","s":"400","x":34,"y":4.1},{"p":"d","s":"400","x":37,"y":5.6},{"p":"d","s":"400","x":40,"y":6.2},{"p":"d","s":"400","x":45,"y":6.5},{"p":"d","s":"400","x":50,"y":7},{"p":"d","s":"400","x":55,"y":7.7},{"p":"d","s":"400","x":60,"y":8.0},{"p":"d","s":"400","x":65,"y":8.1},{"p":"d","s":"400","x":70,"y":8.0},{"p":"d","s":"400","x":75,"y":7.8},{"p":"d","s":"400","x":80,"y":7.5},{"p":"d","s":"400","x":85,"y":7.0},{"p":"d","s":"400","x":90,"y":6.1},{"p":"d","s":"400","x":95,"y":4.9},{"p":"d","s":"400","x":98,"y":4.7},{"p":"d","s":"400","x":180,"y":4.7},
{"p":"d","s":"800","x":10,"y":21},{"p":"d","s":"800","x":10.3,"y":3.3},{"p":"d","s":"800","x":12,"y":6},{"p":"d","s":"800","x":14,"y":7.5},{"p":"d","s":"800","x":17,"y":8.5},{"p":"d","s":"800","x":20,"y":12.8},{"p":"d","s":"800","x":22.3,"y":17.9},{"p":"d","s":"800","x":24,"y":17.2},{"p":"d","s":"800","x":26,"y":13.5},{"p":"d","s":"800","x":28,"y":9.5},{"p":"d","s":"800","x":31,"y":5.0},{"p":"d","s":"800","x":33.5,"y":4.2},{"p":"d","s":"800","x":36.5,"y":5.8},{"p":"d","s":"800","x":40,"y":6.3},{"p":"d","s":"800","x":45,"y":6.6},{"p":"d","s":"800","x":50,"y":7.1},{"p":"d","s":"800","x":55,"y":7.8},{"p":"d","s":"800","x":60,"y":8.1},{"p":"d","s":"800","x":65,"y":8.1},{"p":"d","s":"800","x":70,"y":8.0},{"p":"d","s":"800","x":75,"y":7.8},{"p":"d","s":"800","x":80,"y":7.4},{"p":"d","s":"800","x":85,"y":6.9},{"p":"d","s":"800","x":90,"y":5.9},{"p":"d","s":"800","x":94,"y":4.8},{"p":"d","s":"800","x":97,"y":4.7},{"p":"d","s":"800","x":180,"y":4.7},
{"p":"d","s":"1300","x":10,"y":21},{"p":"d","s":"1300","x":10.3,"y":3.3},{"p":"d","s":"1300","x":12,"y":6},{"p":"d","s":"1300","x":14,"y":7.5},{"p":"d","s":"1300","x":17,"y":8.5},{"p":"d","s":"1300","x":20,"y":12.3},{"p":"d","s":"1300","x":23,"y":17.8},{"p":"d","s":"1300","x":24.5,"y":17.4},{"p":"d","s":"1300","x":26.5,"y":14},{"p":"d","s":"1300","x":28.5,"y":10},{"p":"d","s":"1300","x":31.5,"y":5.3},{"p":"d","s":"1300","x":34.5,"y":4.1},{"p":"d","s":"1300","x":37.5,"y":5.6},{"p":"d","s":"1300","x":40,"y":6.1},{"p":"d","s":"1300","x":45,"y":6.5},{"p":"d","s":"1300","x":50,"y":7},{"p":"d","s":"1300","x":55,"y":7.7},{"p":"d","s":"1300","x":60,"y":8.0},{"p":"d","s":"1300","x":65,"y":8.1},{"p":"d","s":"1300","x":70,"y":8.0},{"p":"d","s":"1300","x":75,"y":7.8},{"p":"d","s":"1300","x":80,"y":7.5},{"p":"d","s":"1300","x":85,"y":7.1},{"p":"d","s":"1300","x":90,"y":6.2},{"p":"d","s":"1300","x":95,"y":4.9},{"p":"d","s":"1300","x":98,"y":4.7},{"p":"d","s":"1300","x":180,"y":4.7},
{"p":"d","s":"1600","x":10,"y":21},{"p":"d","s":"1600","x":10.3,"y":3.3},{"p":"d","s":"1600","x":12,"y":6},{"p":"d","s":"1600","x":14,"y":7.5},{"p":"d","s":"1600","x":17,"y":8.5},{"p":"d","s":"1600","x":20,"y":12.5},{"p":"d","s":"1600","x":22.8,"y":17.7},{"p":"d","s":"1600","x":24.5,"y":17.4},{"p":"d","s":"1600","x":26.5,"y":14},{"p":"d","s":"1600","x":28.5,"y":10},{"p":"d","s":"1600","x":31.5,"y":5.3},{"p":"d","s":"1600","x":34.5,"y":4.1},{"p":"d","s":"1600","x":37.5,"y":5.6},{"p":"d","s":"1600","x":40,"y":6.2},{"p":"d","s":"1600","x":45,"y":6.5},{"p":"d","s":"1600","x":50,"y":7},{"p":"d","s":"1600","x":55,"y":7.7},{"p":"d","s":"1600","x":60,"y":8.0},{"p":"d","s":"1600","x":65,"y":8.1},{"p":"d","s":"1600","x":70,"y":8.05},{"p":"d","s":"1600","x":75,"y":7.85},{"p":"d","s":"1600","x":80,"y":7.6},{"p":"d","s":"1600","x":85,"y":7.2},{"p":"d","s":"1600","x":90,"y":6.4},{"p":"d","s":"1600","x":96,"y":4.9},{"p":"d","s":"1600","x":99,"y":4.7},{"p":"d","s":"1600","x":180,"y":4.7},
{"p":"d","s":"2400","x":10,"y":21},{"p":"d","s":"2400","x":10.3,"y":3.4},{"p":"d","s":"2400","x":12,"y":6},{"p":"d","s":"2400","x":14,"y":7.5},{"p":"d","s":"2400","x":17,"y":8.5},{"p":"d","s":"2400","x":20,"y":11.5},{"p":"d","s":"2400","x":22,"y":15.5},{"p":"d","s":"2400","x":24,"y":18},{"p":"d","s":"2400","x":26,"y":16.5},{"p":"d","s":"2400","x":28.5,"y":12},{"p":"d","s":"2400","x":31.5,"y":6.5},{"p":"d","s":"2400","x":35,"y":4.0},{"p":"d","s":"2400","x":38,"y":5.0},{"p":"d","s":"2400","x":41,"y":6.0},{"p":"d","s":"2400","x":45,"y":6.4},{"p":"d","s":"2400","x":50,"y":6.9},{"p":"d","s":"2400","x":55,"y":7.6},{"p":"d","s":"2400","x":60,"y":8.0},{"p":"d","s":"2400","x":65,"y":8.15},{"p":"d","s":"2400","x":70,"y":8.1},{"p":"d","s":"2400","x":80,"y":7.8},{"p":"d","s":"2400","x":90,"y":7.3},{"p":"d","s":"2400","x":96,"y":6.5},{"p":"d","s":"2400","x":100,"y":5.2},{"p":"d","s":"2400","x":103,"y":4.7},{"p":"d","s":"2400","x":180,"y":4.7},
{"p":"d","s":"3200","x":10,"y":21},{"p":"d","s":"3200","x":10.3,"y":3.6},{"p":"d","s":"3200","x":12,"y":6},{"p":"d","s":"3200","x":14,"y":7.5},{"p":"d","s":"3200","x":17,"y":8.5},{"p":"d","s":"3200","x":20,"y":11},{"p":"d","s":"3200","x":23,"y":16},{"p":"d","s":"3200","x":25.5,"y":19},{"p":"d","s":"3200","x":27,"y":18.5},{"p":"d","s":"3200","x":30,"y":13},{"p":"d","s":"3200","x":33,"y":7},{"p":"d","s":"3200","x":36,"y":4.5},{"p":"d","s":"3200","x":38,"y":3.8},{"p":"d","s":"3200","x":40,"y":4.2},{"p":"d","s":"3200","x":43,"y":5.6},{"p":"d","s":"3200","x":46,"y":6.5},{"p":"d","s":"3200","x":50,"y":6.6},{"p":"d","s":"3200","x":55,"y":7.4},{"p":"d","s":"3200","x":60,"y":8.0},{"p":"d","s":"3200","x":70,"y":8.3},{"p":"d","s":"3200","x":80,"y":8.0},{"p":"d","s":"3200","x":90,"y":7.6},{"p":"d","s":"3200","x":100,"y":7.0},{"p":"d","s":"3200","x":105,"y":6.0},{"p":"d","s":"3200","x":108,"y":4.9},{"p":"d","s":"3200","x":111,"y":4.7},{"p":"d","s":"3200","x":180,"y":4.7}
]},
"concat":[
{"title":"(a) 喷口上游0°子午线","width":1310,"height":880,"transform":[{"filter":"datum.p=='a'"}],"mark":{"type":"line","clip":true,"strokeWidth":5,"interpolate":"monotone"},
"encoding":{"x":{"field":"x","type":"quantitative","scale":{"domain":[0.9,1.15],"nice":false},"axis":{"title":"x/m","values":[0.9,0.95,1.0,1.05,1.1,1.15],"format":".2f"}},
"y":{"field":"y","type":"quantitative","scale":{"domain":[0,50],"nice":false},"axis":{"title":"p/kPa","values":[0,10,20,30,40,50]}},
"color":{"field":"s","type":"nominal","sort":null,"scale":{"domain":["400","1300","2400","800","1600","3200"],"range":["#d40000","#00c800","#ff8000","#ff00ff","#1f3fff","#000000"]},"legend":{"title":null,"orient":"none","legendX":523,"legendY":-230,"columns":3,"direction":"horizontal","columnPadding":170,"rowPadding":0,"symbolType":"M-2,0L2,0","symbolSize":13000,"symbolStrokeWidth":6,"labelOffset":65,"labelExpr":"'T₀ⱼ=' + datum.label + ' K'"}},
"strokeDash":{"field":"s","type":"nominal","scale":{"domain":["400","1300","2400","800","1600","3200"],"range":[[1,0],[12,6],[20,14],[22,14],[12,6],[22,6,5,6]]},"legend":null},
"order":{"field":"s","type":"nominal"}}},
{"title":"(b) 喷口下游0°子午线","width":1310,"height":880,"transform":[{"filter":"datum.p=='b'"}],"mark":{"type":"line","clip":true,"strokeWidth":5,"interpolate":"monotone"},
"encoding":{"x":{"field":"x","type":"quantitative","scale":{"domain":[1.2,2.25],"nice":false},"axis":{"title":"x/m","values":[1.2,1.35,1.5,1.65,1.8,1.95,2.1,2.25],"format":".2f"}},
"y":{"field":"y","type":"quantitative","scale":{"domain":[0,15],"nice":false},"axis":{"title":"p/kPa","values":[0,5,10,15]}},
"color":{"field":"s","type":"nominal"},"strokeDash":{"field":"s","type":"nominal"}}},
{"title":"(c) 180°子午线","width":1310,"height":880,"transform":[{"filter":"datum.p=='c'"}],"mark":{"type":"line","clip":true,"strokeWidth":5,"interpolate":"monotone"},
"encoding":{"x":{"field":"x","type":"quantitative","scale":{"domain":[1.0,2.25],"nice":false},"axis":{"title":"x/m","values":[1.0,1.25,1.5,1.75,2.0,2.25],"format":".2f"}},
"y":{"field":"y","type":"quantitative","scale":{"domain":[0,15],"nice":false},"axis":{"title":"p/kPa","values":[0,5,10,15]}},
"color":{"field":"s","type":"nominal"},"strokeDash":{"field":"s","type":"nominal"}}},
{"title":"(d) x=1.177 m","width":1310,"height":880,"transform":[{"filter":"datum.p=='d'"}],"mark":{"type":"line","clip":true,"strokeWidth":5,"interpolate":"monotone"},
"encoding":{"x":{"field":"x","type":"quantitative","scale":{"domain":[0,180],"nice":false},"axis":{"title":"φ/(°)","values":[0,30,60,90,120,150,180]}},
"y":{"field":"y","type":"quantitative","scale":{"domain":[0,20],"nice":false},"axis":{"title":"p/kPa","values":[5,10,15,20]}},
"color":{"field":"s","type":"nominal"},"strokeDash":{"field":"s","type":"nominal"}}}
],
"columns":2,
"spacing":{"column":210,"row":76},
"resolve":{"scale":{"x":"independent","y":"independent"}}
}
